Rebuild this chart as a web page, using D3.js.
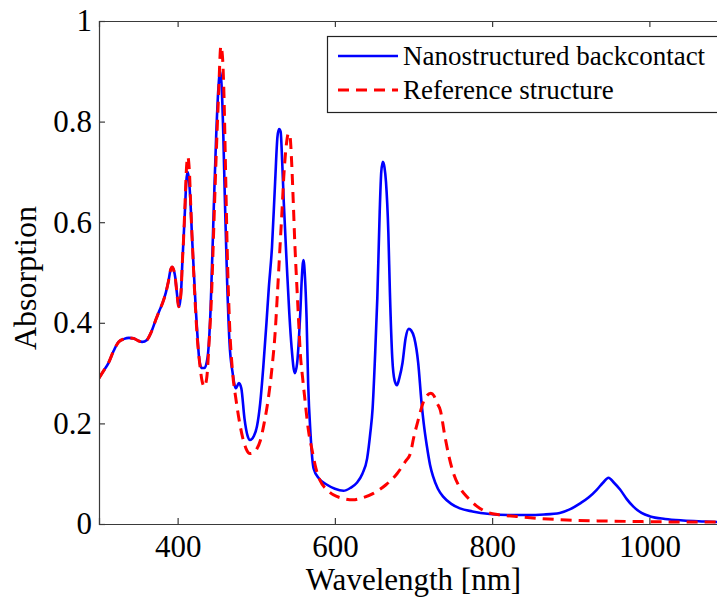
<!DOCTYPE html>
<html>
<head>
<meta charset="utf-8">
<script src="https://cdn.jsdelivr.net/npm/d3@7"></script>
<style>
  body { margin: 0; background: #fff; }
</style>
</head>
<body>
<div id="chart"></div>
<script>
// wavelength [nm] / absorption
var nanoWl = [300, 306, 312, 318, 325, 332, 338, 344, 349, 355, 361, 366, 372, 377, 381, 385, 388, 391, 393, 395, 397, 399, 401.5, 403, 404.5, 406, 407.5, 409.5, 411, 412.5, 414, 416, 418.5, 421, 423, 425, 427, 429, 431, 434, 438, 442, 446, 449, 452, 454, 456, 458, 460, 463, 466, 470, 474, 478, 481, 485, 489, 492, 497, 501, 505, 509, 513, 516, 520, 524, 527, 529, 531, 533, 535, 539, 542, 545, 549, 552, 556, 558, 560, 562, 564, 566, 569, 573, 580, 590, 600, 611, 620, 628, 635, 641, 645, 648, 651, 654, 657, 659, 661, 663, 665, 668, 670, 673, 676, 679, 682, 686, 690, 694, 697, 701, 706, 710, 713, 717, 721, 725, 731, 738, 748, 759, 775, 797, 820, 844, 866, 886, 900, 912, 923, 933, 941, 948, 955, 963, 971, 980, 990, 1001, 1020, 1043, 1070, 1100];
var nanoAbs = [0.29, 0.305, 0.32, 0.342, 0.362, 0.368, 0.370, 0.369, 0.365, 0.362, 0.366, 0.38, 0.405, 0.425, 0.44, 0.46, 0.48, 0.505, 0.511, 0.505, 0.49, 0.46, 0.432, 0.44, 0.465, 0.52, 0.565, 0.63, 0.68, 0.70, 0.69, 0.65, 0.565, 0.49, 0.43, 0.38, 0.335, 0.315, 0.31, 0.31, 0.33, 0.43, 0.63, 0.77, 0.87, 0.90, 0.87, 0.78, 0.65, 0.48, 0.36, 0.30, 0.27, 0.28, 0.27, 0.21, 0.175, 0.167, 0.175, 0.195, 0.24, 0.313, 0.40, 0.47, 0.55, 0.68, 0.77, 0.785, 0.78, 0.72, 0.64, 0.51, 0.42, 0.35, 0.30, 0.32, 0.42, 0.49, 0.525, 0.49, 0.41, 0.28, 0.18, 0.11, 0.09, 0.078, 0.07, 0.066, 0.072, 0.082, 0.10, 0.13, 0.18, 0.23, 0.33, 0.45, 0.62, 0.70, 0.72, 0.71, 0.68, 0.58, 0.46, 0.33, 0.285, 0.276, 0.29, 0.32, 0.37, 0.388, 0.385, 0.37, 0.32, 0.245, 0.2, 0.155, 0.118, 0.094, 0.07, 0.054, 0.04, 0.031, 0.025, 0.02, 0.018, 0.018, 0.019, 0.022, 0.03, 0.041, 0.053, 0.068, 0.082, 0.092, 0.082, 0.068, 0.05, 0.034, 0.022, 0.015, 0.01, 0.007, 0.005, 0.003];

var refWl = [300, 306, 312, 318, 325, 332, 338, 344, 349, 355, 361, 366, 372, 377, 381, 385, 388, 391, 393, 395, 397, 399, 401.5, 403, 404.5, 406, 407.5, 409.5, 411, 413, 415, 417, 419, 421, 423, 425, 428, 431, 434, 437, 440, 443, 446, 449, 452, 455, 457, 459, 461, 463, 466, 470, 474, 479, 483, 487, 492, 497, 501, 505, 510, 515, 520, 524, 527, 530, 533, 535, 538, 541, 543, 545, 547, 549, 551.5, 554, 556, 559, 562, 566, 571, 576, 581, 590, 598, 610, 623, 635, 649, 665, 679, 690, 696, 700, 706, 712, 717, 722, 726, 730, 734, 740, 745, 751, 758, 768, 780, 793, 810, 831, 860, 895, 940, 980, 1040, 1100];
var refAbs = [0.29, 0.305, 0.32, 0.342, 0.362, 0.368, 0.370, 0.369, 0.365, 0.362, 0.366, 0.38, 0.405, 0.425, 0.44, 0.46, 0.48, 0.505, 0.511, 0.505, 0.49, 0.46, 0.432, 0.44, 0.465, 0.52, 0.565, 0.64, 0.70, 0.73, 0.70, 0.62, 0.55, 0.48, 0.42, 0.37, 0.32, 0.285, 0.273, 0.29, 0.36, 0.45, 0.59, 0.73, 0.85, 0.95, 0.93, 0.85, 0.70, 0.55, 0.40, 0.30, 0.25, 0.20, 0.17, 0.15, 0.14, 0.142, 0.15, 0.165, 0.20, 0.246, 0.31, 0.38, 0.46, 0.545, 0.63, 0.69, 0.75, 0.777, 0.77, 0.72, 0.644, 0.56, 0.478, 0.40, 0.34, 0.29, 0.246, 0.19, 0.147, 0.11, 0.087, 0.068, 0.058, 0.051, 0.048, 0.052, 0.061, 0.078, 0.10, 0.125, 0.14, 0.17, 0.207, 0.24, 0.255, 0.26, 0.255, 0.24, 0.227, 0.174, 0.135, 0.10, 0.075, 0.054, 0.036, 0.024, 0.018, 0.015, 0.011, 0.008, 0.006, 0.005, 0.004, 0.004];

var xTicks = [400, 600, 800, 1000];
var yTicks = [0, 0.2, 0.4, 0.6, 0.8, 1];
var seriesNames = ["Nanostructured backcontact", "Reference structure"];

var width = 717, height = 598;
var margin = {left: 99, top: 21, right: -11, bottom: 74};
var serif = "Liberation Serif";

var svg = d3.select("#chart").append("svg")
    .attr("width", width)
    .attr("height", height)
    .style("display", "block");

var x = d3.scaleLinear().domain([300, 1100]).range([margin.left, width - margin.right]);
var y = d3.scaleLinear().domain([0, 1]).range([height - margin.bottom, margin.top]);

svg.append("clipPath").attr("id", "plotClip")
  .append("rect")
    .attr("x", x(300)).attr("y", y(1))
    .attr("width", x(1100) - x(300)).attr("height", y(0) - y(1));

var line = d3.line()
    .x(function(d) { return x(d[0]); })
    .y(function(d) { return y(d[1]); })
    .curve(d3.curveMonotoneX);

var nanoData = nanoWl.map(function(w, i) { return [w, nanoAbs[i]]; });
var refData = refWl.map(function(w, i) { return [w, refAbs[i]]; });

var plot = svg.append("g").attr("clip-path", "url(#plotClip)");
plot.append("path")
    .datum(nanoData)
    .attr("d", line)
    .attr("fill", "none")
    .attr("stroke", "#0000ff")
    .attr("stroke-width", 2.6)
    .attr("stroke-linejoin", "round");
plot.append("path")
    .datum(refData)
    .attr("d", line)
    .attr("fill", "none")
    .attr("stroke", "#ff0000")
    .attr("stroke-width", 3)
    .attr("stroke-dasharray", "11,7");

// axes: ticks point inward, box on top and left
var axisColor = "#3a3a3a";
var xBottom = svg.append("g")
    .attr("transform", "translate(0," + y(0) + ")")
    .call(d3.axisBottom(x).tickValues(xTicks).tickSize(-6).tickPadding(12).tickFormat(d3.format("d")));
var xTop = svg.append("g")
    .attr("transform", "translate(0," + y(1) + ")")
    .call(d3.axisTop(x).tickValues(xTicks).tickSize(-6).tickFormat(""));
var yLeft = svg.append("g")
    .attr("transform", "translate(" + x(300) + ",0)")
    .call(d3.axisLeft(y).tickValues(yTicks).tickSize(-6).tickPadding(12)
        .tickFormat(function(d) { return d === 0 || d === 1 ? d3.format("d")(d) : d3.format(".1f")(d); }));

[xBottom, xTop, yLeft].forEach(function(g) {
    g.attr("font-family", serif).attr("font-size", 31);
    g.select(".domain").attr("stroke", axisColor).attr("stroke-width", 1.2);
    g.selectAll(".tick line").attr("stroke", axisColor).attr("stroke-width", 1.2);
    g.selectAll("text").attr("fill", "#000");
});
xBottom.selectAll("text").attr("dy", "0.71em").attr("y", 11);
yLeft.selectAll("text").attr("x", -7);

svg.append("text")
    .attr("x", (x(300) + x(1100)) / 2)
    .attr("y", 590)
    .attr("text-anchor", "middle")
    .attr("font-family", serif)
    .attr("font-size", 31)
    .text("Wavelength [nm]");

svg.append("text")
    .attr("transform", "translate(36,278) rotate(-90)")
    .attr("text-anchor", "middle")
    .attr("font-family", serif)
    .attr("font-size", 32)
    .text("Absorption");

// legend
var legend = svg.append("g");
legend.append("rect")
    .attr("x", 327.5).attr("y", 36.5)
    .attr("width", 400).attr("height", 76)
    .attr("fill", "#fff")
    .attr("stroke", "#222")
    .attr("stroke-width", 1.2);
var legendRows = [
    {name: seriesNames[0], color: "#0000ff", dash: null, w: 2.6},
    {name: seriesNames[1], color: "#ff0000", dash: "11,7", w: 3}
];
legendRows.forEach(function(r, i) {
    var ly = 56 + i * 34;
    legend.append("line")
        .attr("x1", 338).attr("x2", 398)
        .attr("y1", ly).attr("y2", ly)
        .attr("stroke", r.color)
        .attr("stroke-width", r.w)
        .attr("stroke-dasharray", r.dash);
    legend.append("text")
        .attr("x", 403)
        .attr("y", ly + 9)
        .attr("font-family", serif)
        .attr("font-size", 27)
        .text(r.name);
});
</script>
</body>
</html>
